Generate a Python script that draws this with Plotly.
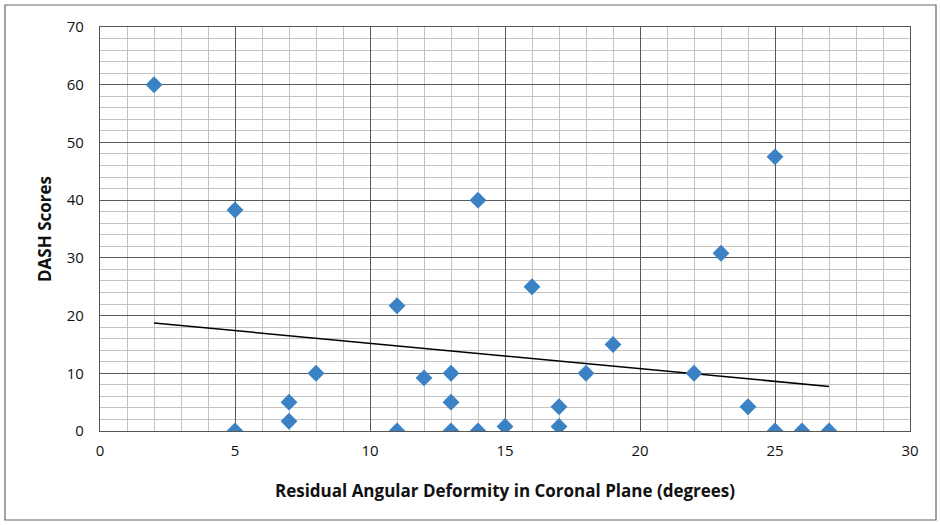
import numpy as np
import plotly.graph_objects as go

deformity = [2, 5, 5, 7, 7, 8, 11, 11, 12, 13, 13, 13, 14, 14, 15, 16, 17, 17, 18, 19, 22, 23, 24, 25, 25, 26, 27]
dash = [60, 38.3, 0, 5, 1.7, 10, 21.7, 0, 9.2, 10, 5, 0, 40, 0, 0.8, 25, 4.2, 0.8, 10, 15, 10, 30.8, 4.2, 47.5, 0, 0, 0]

x_title = "Residual Angular Deformity in Coronal Plane (degrees)"
y_title = "DASH Scores"

slope, intercept = np.polyfit(deformity, dash, 1)
tx = [min(deformity), max(deformity)]
ty = [slope * v + intercept for v in tx]

fig = go.Figure()
fig.add_trace(go.Scatter(x=tx, y=ty, mode="lines", line=dict(color="black", width=1.5),
                         showlegend=False, hoverinfo="skip"))
fig.add_trace(go.Scatter(x=deformity, y=dash, mode="markers",
                         marker=dict(symbol="diamond", size=13, color="#3a82c4",
                                     line=dict(width=0)),
                         showlegend=False))

fig.update_layout(
    width=940, height=525,
    margin=dict(l=100, r=30, t=27, b=94),
    paper_bgcolor="white", plot_bgcolor="white",
    font=dict(family="Open Sans, Liberation Sans, sans-serif", size=15, color="#111"),
    xaxis=dict(range=[0, 30], dtick=5, tick0=0, showgrid=True, gridcolor="#5a5a5a", gridwidth=1.2,
               minor=dict(dtick=1, showgrid=True, gridcolor="#c4c4c4", gridwidth=1),
               zeroline=False, showline=True, linecolor="#555", linewidth=1.2, mirror=True,
               ticks="", ticklabelstandoff=6,
               title=dict(text="<b>" + x_title + "</b>", font=dict(size=17, color="#111"), standoff=26)),
    yaxis=dict(range=[0, 70], dtick=10, tick0=0, showgrid=True, gridcolor="#5a5a5a", gridwidth=1.2,
               minor=dict(dtick=2, showgrid=True, gridcolor="#c4c4c4", gridwidth=1),
               zeroline=False, showline=True, linecolor="#555", linewidth=1.2, mirror=True,
               ticks="", ticklabelstandoff=12,
               title=dict(text="<b>" + y_title + "</b>", font=dict(size=17, color="#111"), standoff=10)),
    shapes=[dict(type="rect", xref="paper", yref="paper",
                 x0=(5 - 100) / 810, x1=(936 - 100) / 810,
                 y0=(431 - 520) / 404, y1=(431 - 5) / 404,
                 line=dict(color="#666", width=1.2), fillcolor="rgba(0,0,0,0)", layer="below")],
)

fig.write_html("out.html", config={"displayModeBar": False},
               post_script="document.body.style.margin='0px';")
